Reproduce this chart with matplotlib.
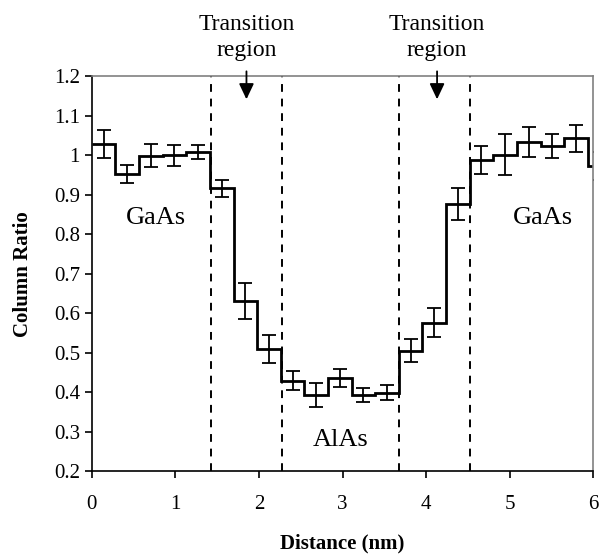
import numpy as np
import matplotlib.pyplot as plt

# column spacing along the profile (nm)
bin_width = 0.2825
ratio = [1.028, 0.953, 0.999, 1.000, 1.008, 0.916, 0.631, 0.509, 0.429, 0.393, 0.436,
         0.392, 0.398, 0.505, 0.576, 0.876, 0.988, 1.002, 1.034, 1.023, 1.043, 0.973]
err = [0.035, 0.023, 0.029, 0.027, 0.017, 0.022, 0.045, 0.036, 0.025, 0.030, 0.023,
       0.018, 0.019, 0.029, 0.037, 0.040, 0.035, 0.052, 0.037, 0.030, 0.035, 0.035]
boundaries = [1.43, 2.27, 3.68, 4.52]
arrow_x = [1.85, 4.13]
labels = [("GaAs", 0.77, 0.84), ("GaAs", 5.40, 0.84), ("AlAs", 2.98, 0.278)]

plt.rcParams['font.family'] = ['Liberation Serif', 'DejaVu Serif']

edges = np.arange(len(ratio) + 1) * bin_width
centers = edges[:-1] + bin_width / 2

fig = plt.figure(figsize=(6, 5.58), dpi=100)
ax = fig.add_axes([0.153, 0.156, 0.836, 0.707])

ax.stairs(ratio, edges, baseline=None, color='black', linewidth=2)
ax.errorbar(centers, ratio, yerr=err, fmt='none', ecolor='black',
            elinewidth=1.3, capsize=5, capthick=1.3)

for b in boundaries:
    ax.axvline(b, color='black', linestyle=(0, (4, 3.5)), linewidth=1.4)

for xa in arrow_x:
    ax.annotate('', xy=(xa, 1.135), xytext=(xa, 1.22), annotation_clip=False,
                arrowprops=dict(arrowstyle='-|>,head_width=0.45,head_length=0.95',
                                color='black', lw=1.3))
    ax.text(xa, 1.298, "Transition\nregion", ha='center', va='center',
            fontsize=17, linespacing=1.3, clip_on=False)

for txt, x, y in labels:
    ax.text(x, y, txt, ha='center', va='center', fontsize=19)

ax.set_xlim(0, 6)
ax.set_ylim(0.2, 1.2)
ax.set_xticks(range(0, 7))
ax.set_yticks(np.arange(0.2, 1.21, 0.1))
ax.set_yticklabels(['0.2', '0.3', '0.4', '0.5', '0.6', '0.7', '0.8', '0.9', '1', '1.1', '1.2'])
ax.tick_params(direction='out', length=5, width=1.2, labelsize=15)
ax.tick_params(axis='x', pad=12)

for s in ['top', 'right']:
    ax.spines[s].set_color('#808080')
    ax.spines[s].set_linewidth(1.2)
for s in ['left', 'bottom']:
    ax.spines[s].set_color('black')
    ax.spines[s].set_linewidth(1.2)

ax.set_xlabel("Distance (nm)", fontsize=15, fontweight='bold', labelpad=14)
ax.set_ylabel("Column Ratio", fontsize=15, fontweight='bold', labelpad=15)

fig.savefig('out.png', dpi=100)
